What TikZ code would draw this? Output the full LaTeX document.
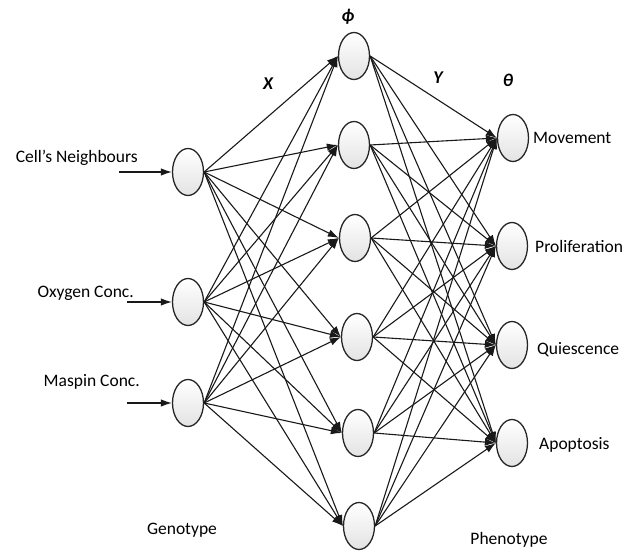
\documentclass[tikz,border=0pt]{standalone}
\usepackage{fontspec}
\setmainfont{Carlito}
\usetikzlibrary{shapes.geometric,arrows.meta}
\tikzset{
  unit/.style   = {ellipse, draw=black!85, line width=1.3pt,
                   top color=white, bottom color=gray!22,
                   minimum width=31pt, minimum height=47pt, inner sep=0pt},
  link/.style   = {-{Latex[length=11pt,width=7.5pt]}, line width=1.1pt, black!90},
  lbl/.style    = {font=\fontsize{17.5}{20}\selectfont, inner sep=0pt},
  sym/.style    = {font=\fontsize{18}{21}\selectfont\bfseries\itshape, inner sep=0pt},
}

\begin{document}
\begin{tikzpicture}[x=1pt, y=-1pt]
        \useasboundingbox (0,0) rectangle (630,559);

        % genotype layer
        \node[unit] (g1) at (188,172) {};
        \node[unit] (g2) at (188,302) {};
        \node[unit] (g3) at (188,403) {};

        % hidden layer
        \node[unit] (h1) at (354,56) {};
        \node[unit] (h2) at (354,145) {};
        \node[unit] (h3) at (355,238) {};
        \node[unit] (h4) at (357,337) {};
        \node[unit] (h5) at (358,433) {};
        \node[unit] (h6) at (359,526) {};

        % phenotype layer
        \node[unit] (p1) at (513,138) {};
        \node[unit] (p2) at (512,246) {};
        \node[unit] (p3) at (512,345) {};
        \node[unit] (p4) at (512,443) {};

        % inputs
        \coordinate (a1) at (119,172);
        \coordinate (a2) at (127,302);
        \coordinate (a3) at (127,403);
        \foreach \i in {1,2,3}
            \draw[link] (a\i) -- (g\i.west);
        \node[lbl, anchor=east] (t1) at (138,158) {Cell’s Neighbours};
        \node[lbl, anchor=east] (t2) at (134,293) {Oxygen Conc.};
        \node[lbl, anchor=east] (t3) at (140,382) {Maspin Conc.};

        % weights X and Y
        \foreach \i in {1,2,3}
            \foreach \j in {1,...,6}
                \draw[link] (g\i.east) -- (h\j.west);
        \foreach \j in {1,...,6}
            \foreach \k in {1,...,4}
                \draw[link] (h\j.east) -- (p\k.west);

        % outputs
        \node[lbl, anchor=west] (o1) at (533,138) {Movement};
        \node[lbl, anchor=west] (o2) at (535,246) {Proliferation};
        \node[lbl, anchor=west] (o3) at (537,350) {Quiescence};
        \node[lbl, anchor=west] (o4) at (539,445) {Apoptosis};

        % layer symbols
        \node[sym] (sx) at (268,84) {X};
        \node[sym] (sphi) at (348,17) {ϕ};
        \node[sym] (sy) at (438,78) {Y};
        \node[sym] (sth) at (508,80) {θ};

        \node[lbl] (geno) at (182,530) {Genotype};
        \node[lbl] (pheno) at (509,540) {Phenotype};
    \end{tikzpicture}
\end{document}
